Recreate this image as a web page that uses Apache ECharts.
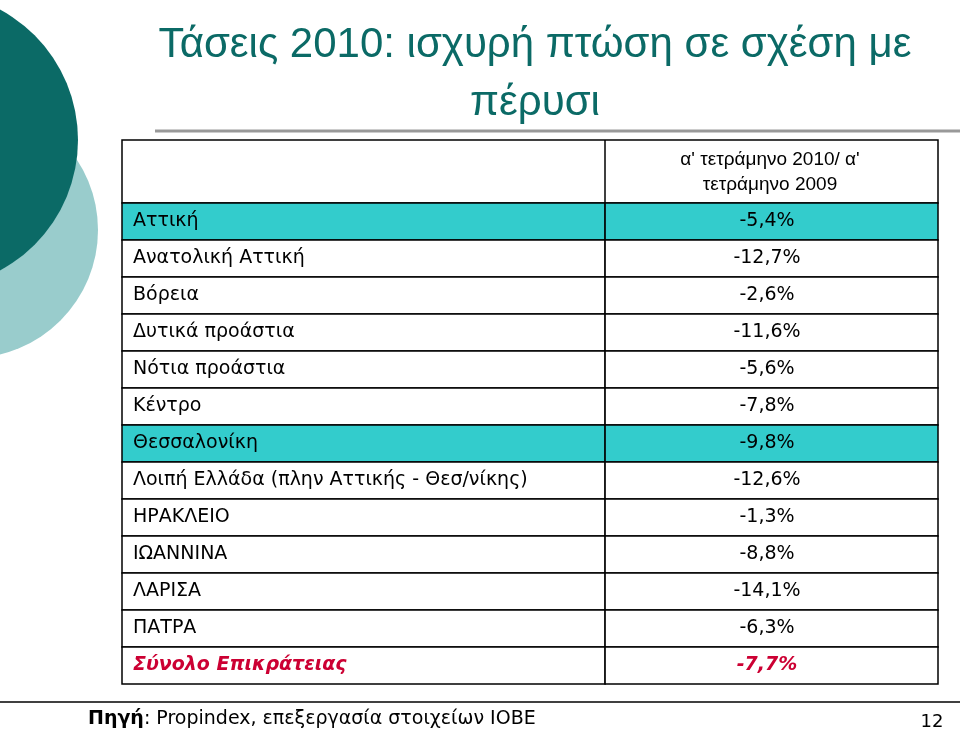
<!DOCTYPE html>
<html><head><meta charset="utf-8">
<script src="https://cdn.jsdelivr.net/npm/echarts@6/dist/echarts.min.js"></script>
<style>html,body{margin:0;padding:0;background:#fff}#c{width:960px;height:732px}</style>
</head><body><div id="c"></div>
<script>
const regions = ['Αττική','Ανατολική Αττική','Βόρεια','Δυτικά προάστια','Νότια προάστια','Κέντρο','Θεσσαλονίκη','Λοιπή Ελλάδα (πλην Αττικής - Θεσ/νίκης)','ΗΡΑΚΛΕΙΟ','ΙΩΑΝΝΙΝΑ','ΛΑΡΙΣΑ','ΠΑΤΡΑ','Σύνολο Επικράτειας'];
const changes = [-5.4,-12.7,-2.6,-11.6,-5.6,-7.8,-9.8,-12.6,-1.3,-8.8,-14.1,-6.3,-7.7];
const highlighted = ['Αττική','Θεσσαλονίκη'];
const header = "α' τετράμηνο 2010/ α'\nτετράμηνο 2009";
const title = 'Τάσεις 2010: ισχυρή πτώση σε σχέση με\nπέρυσι';

const FONT = 'DejaVu Sans';
const fmt = v => v.toFixed(1).replace('.', ',') + '%';
const chart = echarts.init(document.getElementById('c'));
const SPLIT = 0.592;
chart.setOption({
  animation:false,
  grid:{left:122,right:22,top:203,bottom:48},
  xAxis:{type:'value',min:0,max:1,show:false},
  yAxis:{type:'category',data:regions,inverse:true,show:false},
  graphic:[
    {type:'circle',shape:{cx:-30,cy:230,r:128},style:{fill:'#99CCCC'},z:1},
    {type:'circle',shape:{cx:-70,cy:140,r:148},style:{fill:'#0B6A66'},z:2},
    {type:'text',style:{x:535,y:74,text:title,fill:'#0B6A66',font:'42px "Liberation Sans"',align:'center',verticalAlign:'middle',lineHeight:58}},
    {type:'line',shape:{x1:155,y1:131,x2:960,y2:131},style:{stroke:'#999',lineWidth:3}},
    {type:'rect',shape:{x:122,y:140,width:816,height:63},style:{fill:'#fff',stroke:'#000',lineWidth:1.5}},
    {type:'line',shape:{x1:605,y1:140,x2:605,y2:203},style:{stroke:'#000',lineWidth:1.5}},
    {type:'text',style:{x:770,y:172,text:header,fill:'#000',font:'19px "Liberation Sans"',align:'center',verticalAlign:'middle',lineHeight:25}},
    {type:'line',shape:{x1:0,y1:702,x2:960,y2:702},style:{stroke:'#000',lineWidth:1.5}},
    {type:'text',style:{x:88,y:719,rich:{b:{fontWeight:'bold',fontSize:19,fontFamily:FONT,fill:'#000'},n:{fontSize:19,fontFamily:FONT,fill:'#000'}},text:'{b|Πηγή}{n|: Propindex, επεξεργασία στοιχείων ΙΟΒΕ}',verticalAlign:'middle'}},
    {type:'text',style:{x:932,y:722,text:'12',fill:'#000',font:'18px "'+FONT+'"',align:'center',verticalAlign:'middle'}}
  ],
  series:[{
    type:'custom',
    data:regions.map((r,i)=>[0,i,changes[i]]),
    encode:{x:0,y:1},
    renderItem:(params,api)=>{
      const i = api.value(1);
      const cs = params.coordSys;
      const c = api.coord([0,i]);
      const h = api.size([0,1])[1];
      const y0 = c[1]-h/2;
      const name = regions[i];
      const last = i===regions.length-1;
      const fill = highlighted.includes(name)?'#33CCCC':'#fff';
      const xs = cs.x+cs.width*SPLIT;
      const font = (last?'italic bold ':'')+'19px "'+FONT+'"';
      const col = last?'#CC0033':'#000';
      return {type:'group',children:[
        {type:'rect',shape:{x:cs.x,y:y0,width:cs.width*SPLIT,height:h},style:{fill,stroke:'#000',lineWidth:1.5}},
        {type:'rect',shape:{x:xs,y:y0,width:cs.width*(1-SPLIT),height:h},style:{fill,stroke:'#000',lineWidth:1.5}},
        {type:'text',style:{x:cs.x+11,y:c[1],text:name,font,fill:col,verticalAlign:'middle'}},
        {type:'text',style:{x:767,y:c[1],text:fmt(api.value(2)),font,fill:col,align:'center',verticalAlign:'middle'}}
      ]};
    }
  }]
});
</script></body></html>
